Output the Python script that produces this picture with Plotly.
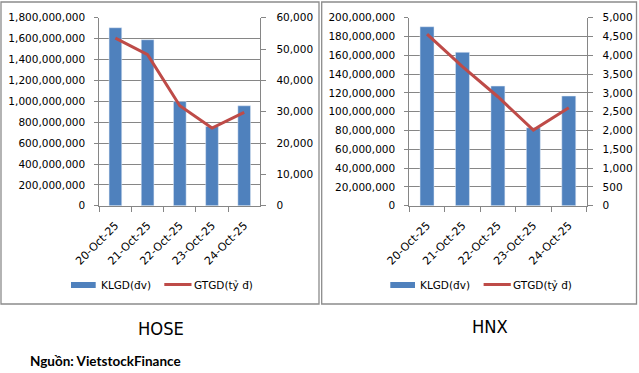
import plotly.graph_objects as go

W, H = 639, 373

dates = ["20-Oct-25", "21-Oct-25", "22-Oct-25", "23-Oct-25", "24-Oct-25"]
hose_klgd = [1704000000, 1589000000, 999000000, 759000000, 957000000]
hose_gtgd = [53500, 48200, 31900, 24800, 29800]
hnx_klgd = [190400000, 163200000, 127300000, 83000000, 116700000]
hnx_gtgd = [4566, 3697, 2899, 2013, 2606]

legend_names = ["KLGD(đv)", "GTGD(tỷ đ)"]
panel_titles = ["HOSE", "HNX"]
source_text = "Nguồn: VietstockFinance"

BLUE = "#4F81BD"
RED = "#BE4B48"
GRID = "#868686"
TICKFONT = dict(family="DejaVu Sans, sans-serif", size=10.5, color="#000000")
XTICKFONT = dict(family="DejaVu Sans, sans-serif", size=11, color="#000000")


def px(x):
    return x / W


def py(y):
    return 1 - y / H


fig = go.Figure()

fig.add_trace(go.Bar(x=dates, y=hose_klgd, marker_color=BLUE, name=legend_names[0],
                     xaxis="x", yaxis="y", showlegend=False))
fig.add_trace(go.Scatter(x=dates, y=hose_gtgd, mode="lines", line=dict(color=RED, width=3),
                         name=legend_names[1], xaxis="x", yaxis="y2", showlegend=False))
fig.add_trace(go.Bar(x=dates, y=hnx_klgd, marker_color=BLUE, name=legend_names[0],
                     xaxis="x2", yaxis="y3", showlegend=False))
fig.add_trace(go.Scatter(x=dates, y=hnx_gtgd, mode="lines", line=dict(color=RED, width=3),
                         name=legend_names[1], xaxis="x2", yaxis="y4", showlegend=False))

ydom = [py(205.8), py(17.7)]

xcommon = dict(type="category", tickson="boundaries", ticks="outside", ticklen=5,
               tickcolor=GRID, showline=True, linecolor=GRID, linewidth=1,
               showgrid=False, tickangle=-45, tickfont=XTICKFONT, automargin=False,
               ticklabelstandoff=8)
yleft = dict(tickformat=",", showgrid=True, gridcolor=GRID, gridwidth=1, ticks="outside",
             ticklen=4, tickcolor=GRID, showline=True, linecolor=GRID, linewidth=1,
             tickfont=TICKFONT, zeroline=False, automargin=False, ticklabelstandoff=7)
yright = dict(tickformat=",", showgrid=False, ticks="outside", ticklen=5, tickcolor=GRID,
              showline=True, linecolor=GRID, linewidth=1, tickfont=TICKFONT,
              zeroline=False, side="right", automargin=False, ticklabelstandoff=8)

fig.update_layout(
    width=W, height=H, autosize=False,
    margin=dict(l=0, r=0, t=0, b=0),
    paper_bgcolor="white", plot_bgcolor="rgba(0,0,0,0)",
    bargap=0.606, showlegend=False,
    xaxis=dict(domain=[px(99.3), px(260.3)], anchor="y", **xcommon),
    yaxis=dict(domain=ydom, anchor="x", range=[0, 1800000000], dtick=200000000, **yleft),
    yaxis2=dict(overlaying="y", anchor="x", range=[0, 60000], dtick=10000, **yright),
    xaxis2=dict(domain=[px(409.3), px(586.5)], anchor="y3", **xcommon),
    yaxis3=dict(domain=ydom, anchor="x2", range=[0, 200000000], dtick=20000000, **yleft),
    yaxis4=dict(overlaying="y3", anchor="x2", range=[0, 5000], dtick=500, **yright),
)

shapes = []
annotations = []

# panel frames
for x0, x1 in [(1, 319), (321.7, 636.5)]:
    shapes.append(dict(type="rect", xref="paper", yref="paper", x0=px(x0), x1=px(x1),
                       y0=py(304), y1=py(2), line=dict(color="#8C8C8C", width=1.3),
                       fillcolor="rgba(0,0,0,0)", layer="below"))

# custom legends
LEGFONT = dict(family="DejaVu Sans, sans-serif", size=10.5, color="#000000")
for off in [0, 319.3]:
    shapes.append(dict(type="rect", xref="paper", yref="paper",
                       x0=px(71 + off), x1=px(95.7 + off), y0=py(288), y1=py(282),
                       fillcolor=BLUE, line=dict(width=0)))
    shapes.append(dict(type="line", xref="paper", yref="paper",
                       x0=px(164.3 + off), x1=px(191.5 + off), y0=py(284.5), y1=py(284.5),
                       line=dict(color=RED, width=3)))
    annotations.append(dict(text=legend_names[0], xref="paper", yref="paper",
                            x=px(98.5 + off), y=py(285), xanchor="left", yanchor="middle",
                            showarrow=False, font=LEGFONT))
    annotations.append(dict(text=legend_names[1], xref="paper", yref="paper",
                            x=px(192 + off), y=py(285), xanchor="left", yanchor="middle",
                            showarrow=False, font=LEGFONT))

TITLEFONT = dict(family="Liberation Sans Narrow, Arial Narrow, DejaVu Sans Condensed, sans-serif",
                 size=18.2, color="#000000")
annotations.append(dict(text=panel_titles[0], xref="paper", yref="paper", x=px(161), y=py(328),
                        xanchor="center", yanchor="middle", showarrow=False, font=TITLEFONT))
annotations.append(dict(text=panel_titles[1], xref="paper", yref="paper", x=px(490), y=py(326),
                        xanchor="center", yanchor="middle", showarrow=False, font=TITLEFONT))
annotations.append(dict(text="<b>" + source_text + "</b>", xref="paper", yref="paper",
                        x=px(27.5), y=py(361), xanchor="left", yanchor="middle", showarrow=False,
                        font=dict(family="Lato, Open Sans, sans-serif", size=13.5, color="#000000")))

fig.update_layout(shapes=shapes, annotations=annotations)

fig.write_html("out.html", config={"displayModeBar": False},
               post_script="document.body.style.margin='0';document.body.style.overflow='hidden';")
